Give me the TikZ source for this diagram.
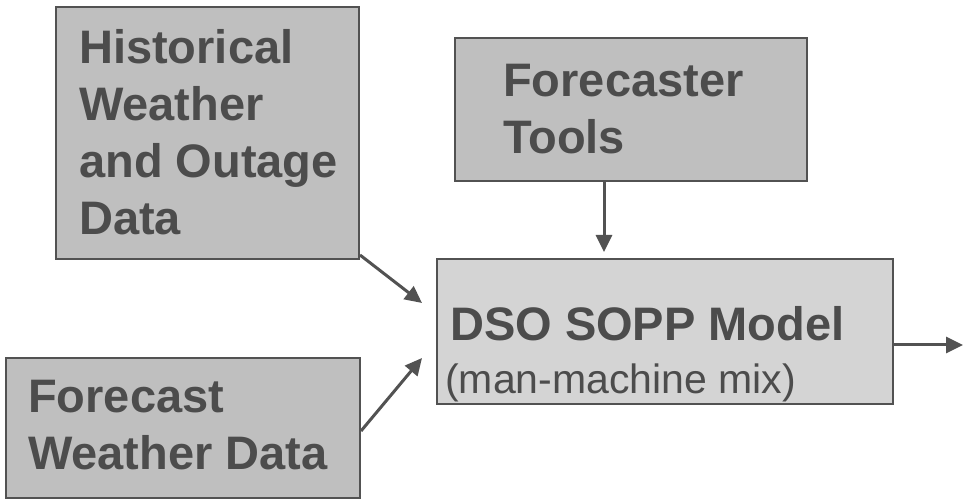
\documentclass[tikz,border=0pt]{standalone}
\usepackage{fontspec}
\setmainfont{Liberation Sans}
\usepackage{xcolor}
\usetikzlibrary{calc}
\usetikzlibrary{arrows.meta}
\colorlet{incol}{black!25}
\colorlet{modcol}{black!17}
\colorlet{txtcol}{black!70}
\colorlet{linecol}{black!68}
\newcommand{\bigtext}{\fontsize{47}{57}\selectfont\bfseries}
\newcommand{\smalltext}{\fontsize{41}{50}\selectfont}

\begin{document}
\begin{tikzpicture}[x=1pt,y=1pt]
\tikzstyle{inbox}=[draw=linecol, line width=2pt, fill=incol, inner sep=0pt, anchor=north west]
\tikzstyle{modbox}=[inbox, fill=modcol]
\tikzstyle{boxtext}=[inner sep=0pt, anchor=north west, align=left, text=txtcol, font=\bigtext]
\tikzstyle{arrow}=[line width=3pt, linecol, -{Triangle[length=17pt,width=16pt]}]

\useasboundingbox (0,0) rectangle (965,500);

% input boxes
\node[inbox, minimum width=303pt, minimum height=252pt] (hist) at (55,494) {};
\node[boxtext] (histtext) at (79,470.5) {Historical\\Weather\\and Outage\\Data};

\node[inbox, minimum width=352pt, minimum height=143pt] (tools) at (454,463) {};
\node[boxtext] (toolstext) at (503,436.5) {Forecaster\\Tools};

\node[inbox, minimum width=354pt, minimum height=140pt] (fc) at (5,143) {};
\node[boxtext] (fctext) at (28,120.5) {Forecast\\Weather Data};

% the model
\node[modbox, minimum width=456pt, minimum height=145pt] (dso) at (436,242) {};
\node[boxtext] (dsotext) at (450,193.5) {DSO SOPP Model};
\node[inner sep=0pt, anchor=base west, text=txtcol, font=\smalltext] (mixtext) at (445,106) {(man-machine mix)};

% arrows into and out of the model
\coordinate (histin) at ($(dso.west)+(-14,28.5)$);
\coordinate (fcin) at ($(dso.west)+(-14,-26.5)$);
\coordinate (toolsin) at ($(dso.north)+(-61,6)$);
\coordinate (outend) at (963,155);

\draw[arrow] ([yshift=5pt]hist.south east) -- (histin);
\draw[arrow] ([yshift=-3pt]fc.east) -- (fcin);
\draw[arrow] (tools.south -| toolsin) -- (toolsin);
\draw[arrow] (dso.east |- outend) -- (outend);
\end{tikzpicture}
\end{document}
